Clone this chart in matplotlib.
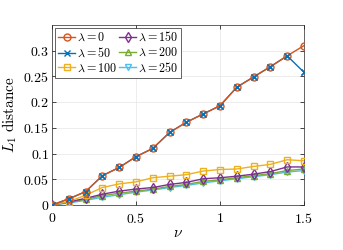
import matplotlib
matplotlib.use("Agg")
import matplotlib.pyplot as plt
import numpy as np

plt.rcParams['mathtext.fontset'] = 'cm'
plt.rcParams['font.family'] = 'serif'
plt.rcParams['font.serif'] = ['cmr10', 'DejaVu Serif']
plt.rcParams['axes.formatter.use_mathtext'] = True

nu = [0, 0.1, 0.2, 0.3, 0.4, 0.5, 0.6, 0.7, 0.8, 0.9, 1.0, 1.1, 1.2, 1.3, 1.4, 1.5]

lam0 = [0, 0.012, 0.026, 0.057, 0.073, 0.094, 0.110, 0.141, 0.161, 0.177, 0.193, 0.229, 0.249, 0.269, 0.290, 0.310]
lam50 = [0, 0.012, 0.026, 0.057, 0.073, 0.094, 0.110, 0.141, 0.161, 0.177, 0.193, 0.229, 0.249, 0.269, 0.290, 0.258]
lam100 = [0, 0.0065, 0.019, 0.034, 0.041, 0.045, 0.053, 0.056, 0.059, 0.066, 0.069, 0.070, 0.075, 0.079, 0.088, 0.086]
lam150 = [0, 0.006, 0.013, 0.021, 0.027, 0.031, 0.034, 0.040, 0.044, 0.051, 0.053, 0.056, 0.060, 0.065, 0.074, 0.074]
lam200 = [0, 0.005, 0.011, 0.018, 0.023, 0.027, 0.031, 0.036, 0.040, 0.046, 0.049, 0.053, 0.057, 0.061, 0.067, 0.070]
lam250 = [0, 0.004, 0.009, 0.015, 0.020, 0.025, 0.029, 0.034, 0.038, 0.043, 0.047, 0.051, 0.055, 0.059, 0.064, 0.067]

labels = [r'$\lambda = 0$', r'$\lambda = 50$', r'$\lambda = 100$',
          r'$\lambda = 150$', r'$\lambda = 200$', r'$\lambda = 250$']
series = [lam0, lam50, lam100, lam150, lam200, lam250]
colors = ['#D95319', '#0072BD', '#EDB120', '#7E2F8E', '#77AC30', '#4DBEEE']
markers = ['o', 'x', 's', 'd', '^', 'v']

fig = plt.figure(figsize=(3.43, 2.5), dpi=100)
ax = fig.add_axes([52/343, 45/250, 252/343, 180/250])

# first series drawn on top, like the reference
for i, (y, lab, c, m) in enumerate(zip(series, labels, colors, markers)):
    ax.plot(nu, y, color=c, marker=m, markersize=5, markerfacecolor='none',
            markeredgewidth=1, linewidth=1, label=lab, zorder=10 - i)
# blue crosses sit inside the orange circles
ax.plot(nu, lam50, color=colors[1], marker='x', markersize=5, linestyle='none',
        markeredgewidth=1, zorder=11)

ax.set_xlim(0, 1.5)
ax.set_ylim(0, 0.35)
ax.set_xticks([0, 0.5, 1, 1.5])
ax.set_xticklabels(['$0$', '$0.5$', '$1$', '$1.5$'])
ax.set_yticks([0, 0.05, 0.1, 0.15, 0.2, 0.25, 0.3])
ax.set_yticklabels(['$0$', '$0.05$', '$0.1$', '$0.15$', '$0.2$', '$0.25$', '$0.3$'])
ax.tick_params(direction='in', top=True, right=True, labelsize=10, length=3, width=0.5)
ax.tick_params(axis='x', pad=5)
ax.tick_params(axis='y', pad=2)
ax.grid(True, color='#e6e6e6', linewidth=0.5)
ax.set_axisbelow(True)
for s in ax.spines.values():
    s.set_color('#262626')
    s.set_linewidth(0.5)

ax.set_xlabel(r'$\nu$', fontsize=11, labelpad=0)
ax.set_ylabel(r'$L_1\ \mathrm{distance}$', fontsize=11, labelpad=3)

leg = ax.legend(loc='upper left', ncol=2, fontsize=8.7, handlelength=1.4,
                handletextpad=0.15, columnspacing=0.2, labelspacing=0.2,
                borderpad=0.25, borderaxespad=0.25, fancybox=False, framealpha=1)
leg.get_frame().set_edgecolor('#262626')
leg.get_frame().set_linewidth(0.5)

fig.savefig('out.png', dpi=100)
